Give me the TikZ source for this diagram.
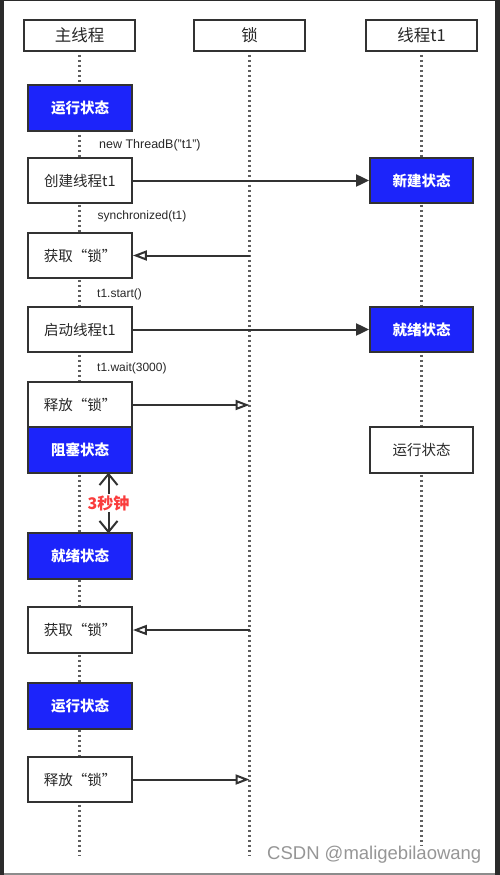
\documentclass[tikz,border=0pt]{standalone}
\usepackage{fontspec}
\setmainfont{Liberation Sans}
\newfontfamily\cjk{Noto Sans CJK SC}
\usetikzlibrary{arrows.meta}
\definecolor{framedark}{RGB}{43,43,43}
\definecolor{framegray}{RGB}{140,140,140}
\definecolor{edgegray}{RGB}{50,50,50}
\definecolor{stateblue}{RGB}{28,36,250}
\definecolor{lifegray}{RGB}{95,95,95}
\definecolor{timered}{RGB}{250,60,60}
\definecolor{markgray}{RGB}{150,150,150}
\definecolor{textdark}{RGB}{40,40,40}
\begin{document}
\begin{tikzpicture}[x=1pt,y=-1pt,
  headbox/.style={draw=edgegray, line width=1.8pt, fill=white, minimum width=111pt, minimum height=31pt, inner sep=0pt, text=textdark, font=\fontsize{16.5}{18}\cjk},
  plainbox/.style={draw=edgegray, line width=1.8pt, fill=white, minimum width=104pt, minimum height=45.5pt, inner sep=0pt, text=textdark, font=\fontsize{14.5}{16}\cjk},
  bluebox/.style={plainbox, fill=stateblue, text=white, font=\fontsize{14.5}{16}\cjk\bfseries},
  lifeline/.style={draw=lifegray, line width=2.2pt, dash pattern=on 2pt off 3pt},
  msgfill/.style={draw=edgegray, line width=2pt, -{Triangle[length=13pt,width=12pt,fill=edgegray]}},
  msgopen/.style={draw=edgegray, line width=2pt, -{Triangle[open,length=14pt,width=10pt,fill=white]}},
  waitarrow/.style={draw=edgegray, line width=2pt, -{Straight Barb[length=11pt,width=18pt]}},
  lbl/.style={anchor=west, inner sep=0pt, text=textdark, font=\fontsize{12}{14}\selectfont},
  timelbl/.style={inner sep=1pt, text=timered, font=\fontsize{16}{18}\cjk\bfseries},
  watermark/.style={anchor=west, inner sep=0pt, text=markgray, font=\fontsize{18.5}{20}\selectfont}
]
% frame
\fill[framedark] (0,0) rectangle (500,875);
\fill[white] (4,1) rectangle (495,873);
\fill[framegray] (4,873) rectangle (495,875);
\useasboundingbox (0,0) rectangle (500,875);

% headers
\node[headbox] (hmain) at (79.5,35.5) {主线程};
\node[headbox] (hlock) at (249.5,35.5) {锁};
\node[headbox] (ht1) at (421.5,35.5) {线程t1};

% lifeline ends
\coordinate (endmain) at (79.5,855);
\coordinate (endlock) at (249.5,855);
\coordinate (endt1) at (421.5,845);
\draw[lifeline] ([yshift=-3pt]hmain.south) -- (endmain);
\draw[lifeline] ([yshift=-3pt]hlock.south) -- (endlock);
\draw[lifeline] ([yshift=-3pt]ht1.south) -- (endt1);

% main thread boxes
\node[bluebox] (run1) at (80,108) {运行状态};
\node[plainbox] (create) at (80,180.5) {创建线程t1};
\node[plainbox] (acq1) at (80,255.5) {获取“锁”};
\node[plainbox] (start) at (80,329.5) {启动线程t1};
\node[plainbox] (rel1) at (80,405) {释放“锁”};
\node[bluebox] (block) at (80,450) {阻塞状态};
\node[bluebox] (ready) at (80,556) {就绪状态};
\node[plainbox] (acq2) at (80,630) {获取“锁”};
\node[bluebox] (run2) at (80,706) {运行状态};
\node[plainbox] (rel2) at (80,779.5) {释放“锁”};

% t1 boxes
\node[bluebox, minimum width=103pt] (tnew) at (421.5,180.5) {新建状态};
\node[bluebox, minimum width=103pt] (tready) at (421.5,329.5) {就绪状态};
\node[plainbox, minimum width=103pt] (trun) at (421.5,450) {运行状态};

% labels
\node[lbl, font=\fontsize{12.5}{14}\selectfont] (l1) at (99,145) {new ThreadB("t1")};
\node[lbl] (l2) at (97.5,216) {synchronized(t1)};
\node[lbl] (l3) at (97,294.5) {t1.start()};
\node[lbl] (l4) at (97,368.5) {t1.wait(3000)};

% messages
\draw[msgfill] (create.east) -- (tnew.west);
\draw[msgfill] (start.east) -- (tready.west);
\coordinate (lk1) at (249.5,255.5);
\coordinate (lk2) at (249.5,405);
\coordinate (lk3) at (249.5,630);
\coordinate (lk4) at (249.5,779.5);
\draw[msgopen] (lk1) -- (acq1.east);
\draw[msgopen] (rel1.east) -- (lk2);
\draw[msgopen] (lk3) -- (acq2.east);
\draw[msgopen] (rel2.east) -- (lk4);

% 3 seconds
\node[timelbl] (tlab) at (108.5,503) {3秒钟};
\coordinate (dtop) at (108.5,472.5);
\coordinate (dbot) at (108.5,533.5);
\draw[waitarrow] (tlab.north) -- (dtop);
\draw[waitarrow] (tlab.south) -- (dbot);

% watermark
\node[watermark] (wm) at (267,855) {CSDN @maligebilaowang};
\end{tikzpicture}
\end{document}
